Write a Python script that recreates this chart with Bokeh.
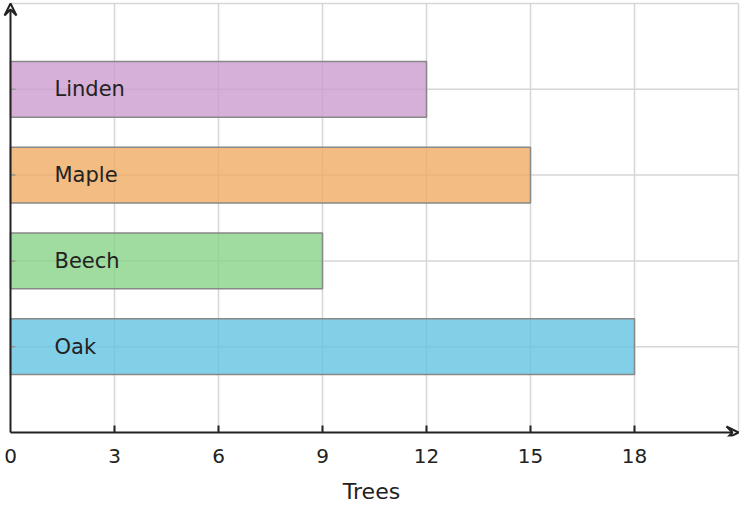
import math
from bokeh.plotting import figure
from bokeh.models import ColumnDataSource, Range1d, FixedTicker, Arrow, VeeHead
from bokeh.core.properties import value
from bokeh.embed import file_html
from bokeh.resources import INLINE

# data
species = ['Oak', 'Beech', 'Maple', 'Linden']
trees = [18, 9, 15, 12]
colors = ['#63C3E2', '#88D288', '#EFAB63', '#CD9CD1']
x_ticks = [0, 3, 6, 9, 12, 15, 18]
x_grid = [3, 6, 9, 12, 15, 18, 21]
x_max = 21

FONT = "DejaVu Sans"
INK = "#222222"
GRID = '#d6d6d6'

pos = list(range(len(species)))
y_top = len(species)
y_bot = -1
source = ColumnDataSource(data={
    'pos': pos,
    'name': species,
    'trees': trees,
    'color': colors,
    'zero': [0] * len(species),
})

# a few pixels of room round the axes so the arrow heads are not cut
PX_X = 728 / x_max
PX_Y = 429 / (y_top - y_bot)
p = figure(width=740, height=506, output_backend="svg", toolbar_location=None,
           x_range=Range1d(-8 / PX_X, x_max + 2 / PX_X),
           y_range=Range1d(y_bot - 4 / PX_Y, y_top + 3 / PX_Y),
           min_border_left=2, min_border_right=0, min_border_top=0,
           x_axis_label='Trees')
p.outline_line_color = None
p.yaxis.visible = False
p.grid.visible = False

# grid
p.segment(x0=x_grid, y0=[y_bot] * len(x_grid), x1=x_grid, y1=[y_top] * len(x_grid),
          line_color=GRID, line_width=1.5, level='underlay')
y_grid = pos + [y_top]
p.segment(x0=[0] * len(y_grid), y0=y_grid, x1=[x_max] * len(y_grid), y1=y_grid,
          line_color=GRID, line_width=1.5, level='underlay')

# bars
p.hbar(y='pos', left='zero', right='trees', height=0.65, source=source,
       fill_color='color', fill_alpha=0.8, line_color='#888888', line_width=1.5)

# names inside the bars
p.text(x='zero', y='pos', text='name', source=source, x_offset=44,
       text_font=value(FONT), text_font_size='21px', text_color=INK,
       text_baseline='middle', text_align='left')

# inner ticks
p.ray(x=x_ticks[1:], y=[y_bot] * (len(x_ticks) - 1), length=7, length_units='screen',
      angle=math.pi / 2, line_color=INK, line_width=2)
p.ray(x='zero', y='pos', source=source, length=5, length_units='screen',
      angle=0, line_color='#999999', line_width=1.5)

# x axis: labels only, the line is drawn as an arrow
xa = p.xaxis[0]
xa.ticker = FixedTicker(ticks=x_ticks)
xa.axis_line_color = None
xa.major_tick_line_color = None
xa.minor_tick_line_color = None
xa.major_label_standoff = 6
xa.major_label_text_font = FONT
xa.major_label_text_font_size = '20px'
xa.major_label_text_color = INK
xa.axis_label_text_font = FONT
xa.axis_label_text_font_size = '22px'
xa.axis_label_text_font_style = 'normal'
xa.axis_label_text_color = INK
xa.axis_label_standoff = 13

# axis arrows
head = dict(size=12, line_color=INK, line_width=2, fill_color=None)
p.add_layout(Arrow(end=VeeHead(**head),
                   x_start=0, y_start=y_bot, x_end=x_max, y_end=y_bot,
                   line_color=INK, line_width=2))
p.add_layout(Arrow(end=VeeHead(**head),
                   x_start=0, y_start=y_bot, x_end=0, y_end=y_top,
                   line_color=INK, line_width=2))

open("out.html", "w").write(file_html(p, INLINE))
